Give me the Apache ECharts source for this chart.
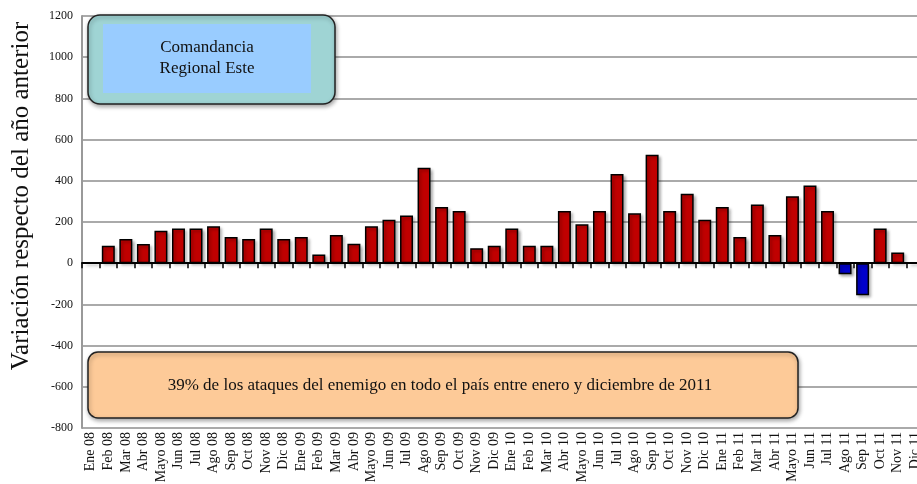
<!DOCTYPE html>
<html>
<head>
<meta charset="utf-8">
<script src="https://cdn.jsdelivr.net/npm/echarts@6/dist/echarts.min.js"></script>
<style>
  html, body { margin: 0; padding: 0; background: #fff; }
  #chart { width: 917px; height: 484px; }
</style>
</head>
<body>
<div id="chart"></div>
<script>
var months = [
  'Ene 08', 'Feb 08', 'Mar 08', 'Abr 08', 'Mayo 08', 'Jun 08', 'Jul 08', 'Ago 08', 'Sep 08', 'Oct 08', 'Nov 08', 'Dic 08',
  'Ene 09', 'Feb 09', 'Mar 09', 'Abr 09', 'Mayo 09', 'Jun 09', 'Jul 09', 'Ago 09', 'Sep 09', 'Oct 09', 'Nov 09', 'Dic 09',
  'Ene 10', 'Feb 10', 'Mar 10', 'Abr 10', 'Mayo 10', 'Jun 10', 'Jul 10', 'Ago 10', 'Sep 10', 'Oct 10', 'Nov 10', 'Dic 10',
  'Ene 11', 'Feb 11', 'Mar 11', 'Abr 11', 'Mayo 11', 'Jun 11', 'Jul 11', 'Ago 11', 'Sep 11', 'Oct 11', 'Nov 11', 'Dic 11'
];
// variacion respecto del mismo mes del año anterior
var variacion = [
  0, 85, 117, 93, 158, 169, 169, 179, 127, 117, 169, 117,
  127, 42, 137, 94, 179, 211, 231, 463, 273, 254, 73, 85,
  169, 85, 85, 254, 189, 254, 433, 242, 527, 254, 337, 211,
  273, 127, 285, 137, 325, 377, 254, -54, -156, 169, 52, 0
];
var yTicks = { min: -800, max: 1200, step: 200 };

var serif = '"Liberation Serif", "DejaVu Serif", serif';

var chart = echarts.init(document.getElementById('chart'));
var option = {
  backgroundColor: '#fff',
  animation: false,
  // the plot runs a little past the right edge of the picture
  grid: { left: 82, width: 842, top: 16, bottom: 56, outerBoundsMode: 'none', containLabel: false },
  xAxis: [{
    type: 'category',
    data: months,
    position: 'bottom',
    axisLine: { onZero: true, lineStyle: { color: '#000', width: 2 } },
    axisTick: { show: true, interval: 0, length: 5, lineStyle: { color: '#000', width: 1.5 } },
    axisLabel: { show: false, interval: 0 },
    splitLine: { show: false }
  }, {
    type: 'category',
    data: months,
    position: 'bottom',
    axisLine: { show: false, onZero: false },
    axisTick: { show: false },
    axisLabel: {
      rotate: 90, interval: 0, margin: 4,
      fontFamily: serif, fontSize: 14, color: '#111'
    },
    splitLine: { show: false }
  }],
  yAxis: {
    type: 'value',
    min: yTicks.min, max: yTicks.max, interval: yTicks.step,
    axisLine: { show: true, lineStyle: { color: '#999', width: 2 } },
    axisTick: { show: false },
    axisLabel: {
      fontFamily: serif, fontSize: 12, color: '#111', margin: 9,
      formatter: function (v) { return String(v); }
    },
    splitLine: { lineStyle: { color: '#aaa', width: 2 } }
  },
  series: [{
    type: 'bar',
    xAxisIndex: 0,
    data: variacion,
    barCategoryGap: '26%',
    itemStyle: {
      color: function (p) { return p.value < 0 ? '#0000cc' : '#c00000'; },
      borderColor: '#000',
      borderWidth: 1.5,
      shadowColor: 'rgba(0,0,0,0.3)',
      shadowBlur: 3,
      shadowOffsetX: 2,
      shadowOffsetY: 2
    }
  }],
  graphic: [{
    type: 'text',
    z: 100,
    x: 21, y: 196,
    rotation: Math.PI / 2,
    style: {
      text: 'Variación respecto del año anterior',
      fontFamily: serif, fontSize: 25, fill: '#111',
      align: 'center', verticalAlign: 'middle'
    }
  }, {
    type: 'rect',
    z: 100,
    shape: { x: 88, y: 15, width: 247, height: 89, r: 12 },
    style: {
      fill: '#9fd4d4', stroke: '#222', lineWidth: 1.5,
      shadowColor: 'rgba(0,0,0,0.35)', shadowBlur: 4, shadowOffsetX: 1, shadowOffsetY: 2
    }
  }, {
    type: 'rect',
    z: 101,
    shape: { x: 103, y: 24, width: 208, height: 69 },
    style: { fill: '#99ccff' }
  }, {
    type: 'text',
    z: 102,
    x: 207, y: 58,
    style: {
      text: 'Comandancia\nRegional Este',
      fontFamily: serif, fontSize: 17, lineHeight: 21, fill: '#111',
      align: 'center', verticalAlign: 'middle'
    }
  }, {
    type: 'rect',
    z: 100,
    shape: { x: 88, y: 352, width: 710, height: 66, r: 10 },
    style: {
      fill: '#fdca98', stroke: '#222', lineWidth: 1.5,
      shadowColor: 'rgba(0,0,0,0.35)', shadowBlur: 4, shadowOffsetX: 1, shadowOffsetY: 2
    }
  }, {
    type: 'text',
    z: 102,
    x: 440, y: 386,
    style: {
      text: '39% de los ataques del enemigo en todo el país entre enero y diciembre de 2011',
      fontFamily: serif, fontSize: 17, fill: '#111',
      align: 'center', verticalAlign: 'middle'
    }
  }]
};
chart.setOption(option);
</script>
</body>
</html>
